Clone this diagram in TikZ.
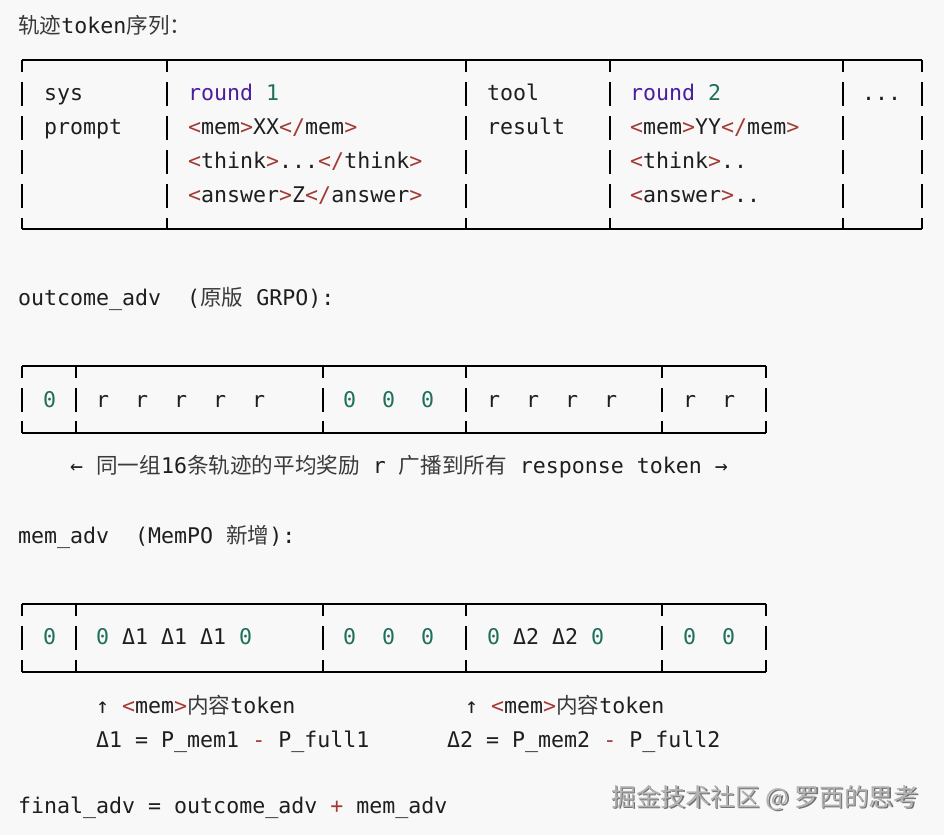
\documentclass[tikz,border=0pt]{standalone}
\usepackage{fontspec}
\setmonofont{DejaVu Sans Mono}
\newfontfamily\cjkfont{Noto Sans CJK SC}
\usepackage{tikz}
\usetikzlibrary{positioning}
\definecolor{bgcol}{HTML}{F8F8F8}
\definecolor{kwcol}{HTML}{4B1E9E}
\definecolor{numcol}{HTML}{1F6F5C}
\definecolor{tagcol}{HTML}{A33A35}
\definecolor{txtcol}{HTML}{1E1E1E}
\definecolor{zhcol}{HTML}{3A3A3A}
\newcommand\zh[1]{{\cjkfont\color{zhcol}#1}}
\newcommand\nm[1]{\textcolor{numcol}{#1}}
\newcommand\kw[1]{\textcolor{kwcol}{#1}}
\newcommand\tg[1]{\textcolor{tagcol}{#1}}

\begin{document}
\begin{tikzpicture}[x=1pt,y=-1pt]
\tikzstyle{code node}=[anchor=base west,inner sep=0,font=\ttfamily\fontsize{21.6}{26}\selectfont,text=txtcol]
\tikzstyle{mark node}=[anchor=base west,inner sep=0,font=\cjkfont\fontsize{24.8}{28}\selectfont]
\tikzstyle{frame line}=[line width=2.2pt,black]
\tikzstyle{bar line}=[line width=1.6pt,black]

\fill[bgcol] (0,0) rectangle (944,835);
\useasboundingbox (0,0) rectangle (944,835);

    \node[code node] (title) at (18,33) {\zh{轨迹}token\zh{序列：}};

    %%%%%%%%%%%%%%%%%%%%%%%%%% token sequence
    \node[code node] (sys)    at (44,100)  {sys};
    \node[code node] (prompt) at (44,134)  {prompt};
    \node[code node] (rnd1)   at (188,100) {\kw{round} \nm{1}};
    \node[code node] (mem1)   at (188,134) {\tg{<}mem\tg{>}XX\tg{</}mem\tg{>}};
    \node[code node] (think1) at (188,168) {\tg{<}think\tg{>}...\tg{</}think\tg{>}};
    \node[code node] (ans1)   at (188,202) {\tg{<}answer\tg{>}Z\tg{</}answer\tg{>}};
    \node[code node] (tool)   at (487,100) {tool};
    \node[code node] (result) at (487,134) {result};
    \node[code node] (rnd2)   at (630,100) {\kw{round} \nm{2}};
    \node[code node] (mem2)   at (630,134) {\tg{<}mem\tg{>}YY\tg{</}mem\tg{>}};
    \node[code node] (think2) at (630,168) {\tg{<}think\tg{>}..};
    \node[code node] (ans2)   at (630,202) {\tg{<}answer\tg{>}..};
    \node[code node] (more)   at (862,100) {...};

    \foreach \x in {22,167,466,610,843,922} {
      \draw[bar line] (\x,60) -- (\x,72);
      \foreach \y in {94,128,162,196}
        \draw[bar line] (\x,\y-12) -- (\x,\y+12);
      \draw[bar line] (\x,218) -- (\x,229);
    }
    \draw[frame line] (22,60) -- (922,60);
    \draw[frame line] (22,229) -- (922,229);

    %%%%%%%%%%%%%%%%%%%%%%%%%% outcome_adv
    \node[code node] (outc) at (18,305) {outcome\_adv~~(\zh{原版} GRPO):};
    \node[code node] (oa) at (43,407)  {\nm{0}};
    \node[code node] (ob) at (96,407)  {r~~r~~r~~r~~r};
    \node[code node] (oc) at (343,407) {\nm{0~~0~~0}};
    \node[code node] (od) at (487,407) {r~~r~~r~~r};
    \node[code node] (oe) at (683,407) {r~~r};
    \node[code node] (bcast) at (70,473) {←~\zh{同一组}16\zh{条轨迹的平均奖励}~r~\zh{广播到所有}~response~token~→};

    \foreach \x in {22,76,323,466,662,766} {
      \draw[bar line] (\x,366) -- (\x,378);
      \draw[bar line] (\x,388) -- (\x,412);
      \draw[bar line] (\x,421) -- (\x,433);
    }
    \draw[frame line] (22,366) -- (766,366);
    \draw[frame line] (22,433) -- (766,433);

    %%%%%%%%%%%%%%%%%%%%%%%%%% mem_adv
    \node[code node] (memadv) at (18,543) {mem\_adv~~(MemPO \zh{新增}):};
    \node[code node] (ma) at (43,644)  {\nm{0}};
    \node[code node] (mb) at (96,644)  {\nm{0} Δ1 Δ1 Δ1 \nm{0}};
    \node[code node] (mc) at (343,644) {\nm{0~~0~~0}};
    \node[code node] (md) at (487,644) {\nm{0} Δ2 Δ2 \nm{0}};
    \node[code node] (me) at (683,644) {\nm{0~~0}};

    \foreach \x in {22,76,323,466,662,766} {
      \draw[bar line] (\x,604) -- (\x,616);
      \draw[bar line] (\x,626) -- (\x,650);
      \draw[bar line] (\x,660) -- (\x,672);
    }
    \draw[frame line] (22,604) -- (766,604);
    \draw[frame line] (22,672) -- (766,672);

    \node[code node] (up1)    at (96,713)  {↑ \tg{<}mem\tg{>}\zh{内容}token};
    \node[code node] (delta1) at (96,747)  {Δ1 = P\_mem1 \tg{-} P\_full1};
    \node[code node] (up2)    at (465,713) {↑ \tg{<}mem\tg{>}\zh{内容}token};
    \node[code node] (delta2) at (447,747) {Δ2 = P\_mem2 \tg{-} P\_full2};

    \node[code node] (final) at (18,813) {final\_adv = outcome\_adv \tg{+} mem\_adv};

    %%%%%%%%%%%%%%%%%%%%%%%%%% watermark
    \node[mark node,text=black!55] (wmshadow) at (612.5,807.5) {掘金技术社区 @ 罗西的思考};
    \node[mark node,text=black!30] (wm) [above left=1.5pt and 1.5pt of wmshadow.base east,anchor=base east] {掘金技术社区 @ 罗西的思考};
\end{tikzpicture}
\end{document}
